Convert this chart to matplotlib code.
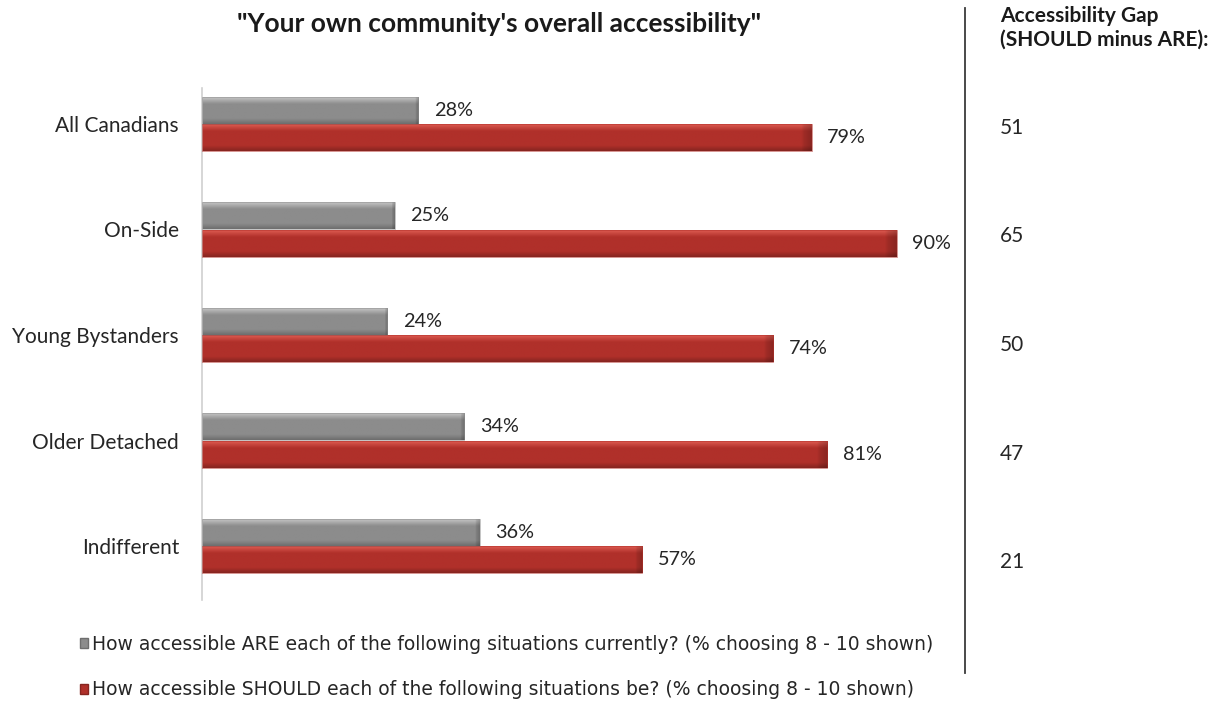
import numpy as np
import matplotlib.pyplot as plt
from matplotlib.patches import Rectangle
from matplotlib.colors import to_rgb

groups = ["All Canadians", "On-Side", "Young Bystanders", "Older Detached", "Indifferent"]
are_vals = [28, 25, 24, 34, 36]
should_vals = [79, 90, 74, 81, 57]
legend_labels = [
    "How accessible ARE each of the following situations currently? (% choosing 8 - 10 shown)",
    "How accessible SHOULD each of the following situations be? (% choosing 8 - 10 shown)",
]
title = "\"Your own community's overall accessibility\""
gap_title = "Accessibility Gap\n(SHOULD minus ARE):"

gray = ("#c4c4c4", "#8c8c8c", "#6e6e6e")
red = ("#dc5a50", "#b0302a", "#872520")

font = "Lato"

fig = plt.figure(figsize=(12.2, 7.04), dpi=100)
ax = fig.add_axes([202 / 1220, 1 - 600 / 704, 772 / 1220, 512 / 704])


def shaded_bar(ax, y, width, h, cols):
    # vertical shading: light top edge, flat middle, darker bottom edge
    top, mid, bot = (np.array(to_rgb(c)) for c in cols)
    rows = []
    for v in np.linspace(0, 1, 40):
        if v < 0.25:
            c = top + (mid - top) * (v / 0.25)
        elif v < 0.8:
            c = mid
        else:
            c = mid + (bot - mid) * ((v - 0.8) / 0.2)
        rows.append(c)
    # darker cap at the right end
    cap = np.ones(200)
    cap[-3:] = [0.9, 0.85, 0.8]
    img = np.array(rows)[:, None, :] * cap[None, :, None]
    rect = Rectangle((0, y - h / 2), width, h, facecolor="none", edgecolor="none")
    ax.add_patch(rect)
    im = ax.imshow(img, extent=(0, width, y + h / 2, y - h / 2), aspect="auto",
                   interpolation="bilinear", zorder=2)
    im.set_clip_path(rect)
    ax.add_patch(Rectangle((0, y - h / 2), width, h, facecolor="none",
                           edgecolor=cols[1], linewidth=0.6, alpha=0.6, zorder=3))


h = 0.255
off = 0.13
for i, (a, s) in enumerate(zip(are_vals, should_vals)):
    shaded_bar(ax, i - off, a, h, gray)
    shaded_bar(ax, i + off, s, h, red)
    ax.text(a + 2.0, i - off, f"{a}%", va="center", ha="left", fontsize=14.3,
            family=font, color="#262626")
    ax.text(s + 2.0, i + off, f"{s}%", va="center", ha="left", fontsize=14.3,
            family=font, color="#262626")

ax.set_xlim(0, 100)
ax.set_ylim(4.51, -0.34)
ax.set_yticks(range(len(groups)))
ax.set_yticklabels(groups, family=font, fontsize=15, color="#262626")
ax.tick_params(axis="y", length=0, pad=16.5)
ax.set_xticks([])
for sp in ["top", "right", "bottom"]:
    ax.spines[sp].set_visible(False)
ax.spines["left"].set_color("#d0d0d0")
ax.spines["left"].set_linewidth(1.2)

fig.text(499 / 1220, 1 - 24 / 704, title, ha="center", va="center",
         family=font, fontweight="bold", fontsize=19, color="#1a1a1a")

# gap column on the right
fig.add_artist(plt.Line2D([965 / 1220, 965 / 1220], [1 - 8 / 704, 1 - 673 / 704],
                          color="#3a3a3a", linewidth=1.3))
fig.text(1000 / 1220, 1 - 6 / 704, gap_title, ha="left", va="top", family=font,
         fontweight="bold", fontsize=15, color="#1a1a1a", linespacing=1.2)
for i, (a, s) in enumerate(zip(are_vals, should_vals)):
    fig.text(1000 / 1220, 1 - (128 + i * 108.5) / 704, f"{s - a}", ha="left",
             va="center", family=font, fontsize=15, color="#262626")

handles = [Rectangle((0, 0), 1, 1, facecolor=gray[1], edgecolor=gray[2]),
           Rectangle((0, 0), 1, 1, facecolor=red[1], edgecolor=red[2])]
fig.legend(handles, legend_labels, loc="upper left",
           bbox_to_anchor=(80 / 1220, 1 - 635 / 704), frameon=False,
           borderpad=0, borderaxespad=0,
           handlelength=0.45, handleheight=0.45, handletextpad=0.2,
           labelspacing=1.4, prop={"family": "DejaVu Sans", "size": 13.5},
           labelcolor="#262626")

fig.savefig("out.png", dpi=100, facecolor="white")
